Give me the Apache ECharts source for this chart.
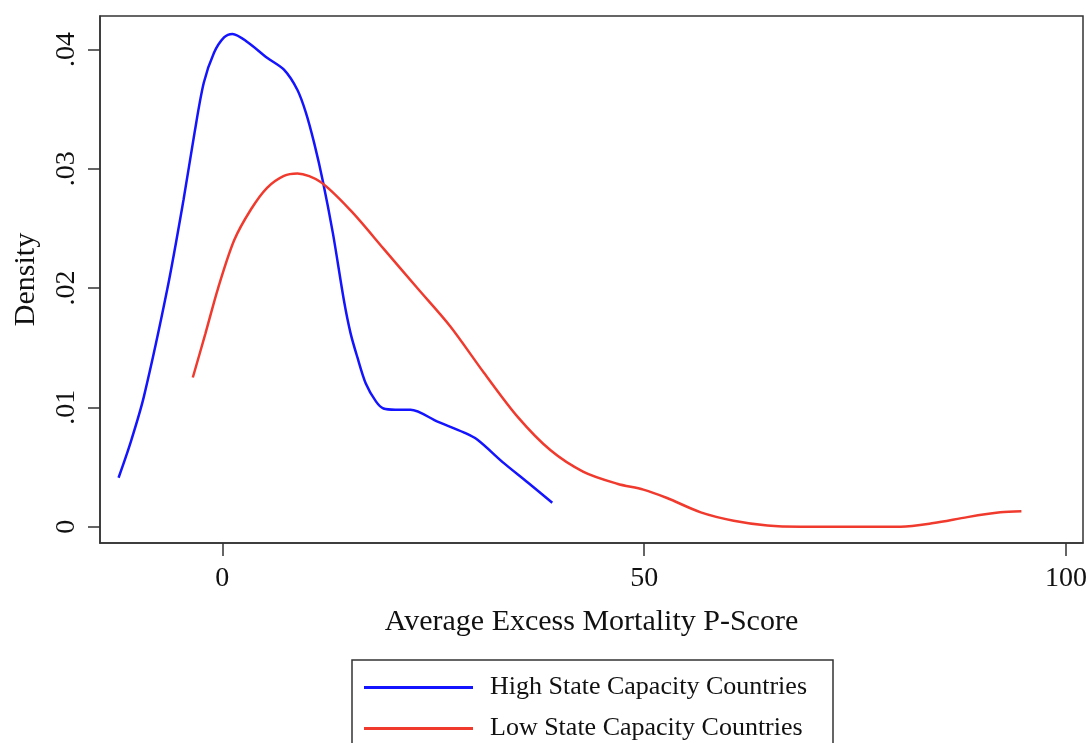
<!DOCTYPE html>
<html lang="en">
<head>
    <meta charset="UTF-8"/>
    <title>density</title>
    <script src="https://cdn.jsdelivr.net/npm/echarts@6/dist/echarts.min.js"></script>
</head>
<body style="margin:0">
<div id="main" style="width: 1091px;height:743px;"></div>
<script type="text/javascript">
    // kernel density
    var highX = [-12.3, -10.9, -9.3, -6.5, -4.6, -3.3, -2.2, -1.0, 0.2, 1.2, 3.0, 5.3, 7.3, 8.9, 9.9, 10.9, 11.9, 13.1, 14.4, 15.2, 16.0, 17.0, 18.2, 19.1, 20.5, 22.3, 25.5, 28.6, 30.2, 33.4, 36.2, 39.1];
    var highY = [0.0041, 0.0070, 0.0109, 0.0200, 0.0274, 0.0330, 0.0372, 0.0397, 0.0410, 0.0413, 0.0406, 0.0393, 0.0383, 0.0366, 0.0347, 0.0321, 0.0290, 0.0246, 0.0190, 0.0162, 0.0142, 0.0120, 0.0105, 0.0099, 0.0098, 0.0098, 0.0088, 0.0079, 0.0073, 0.0053, 0.0037, 0.0020];
    var lowX = [-3.5, -2.0, -0.5, 1.4, 3.4, 5.3, 7.3, 8.9, 11.6, 15.2, 19.1, 23.1, 27.0, 31.0, 35.0, 38.9, 42.8, 46.8, 49.9, 52.7, 56.7, 60.6, 64.6, 68.5, 74.5, 80.4, 84.3, 88.3, 92.2, 94.7];
    var lowY = [0.0125, 0.0162, 0.0200, 0.0240, 0.0266, 0.0284, 0.0294, 0.0296, 0.0289, 0.0265, 0.0233, 0.0200, 0.0168, 0.0129, 0.0092, 0.0064, 0.0046, 0.0036, 0.0031, 0.0024, 0.0012, 0.0005, 0.0001, 0.0, 0.0, 0.0, 0.0003, 0.0008, 0.0012, 0.0013];
    var xTicks = [0, 50, 100];
    var yTicks = [0, 0.01, 0.02, 0.03, 0.04];
    var names = ['High State Capacity Countries', 'Low State Capacity Countries'];

    function pairs(xs, ys) {
        var out = [];
        for (var i = 0; i < xs.length; i++) out.push([xs[i], ys[i]]);
        return out;
    }

    var font = 'Liberation Serif';
    var myChart = echarts.init(document.getElementById('main'));
    var option = {
        animation: false,
        grid: {
            left: 100, right: 8, top: 16, bottom: 200,
            outerBoundsMode: 'none', containLabel: false,
            show: true, borderColor: '#333', borderWidth: 1.5
        },
        xAxis: {
            type: 'value', min: -14.5, max: 102,
            name: 'Average Excess Mortality P-Score',
            nameLocation: 'middle', nameGap: 64,
            nameTextStyle: {fontFamily: font, fontSize: 30, color: '#111'},
            splitLine: {show: false},
            axisLine: {show: true, onZero: false, lineStyle: {color: '#333', width: 1.5}},
            axisTick: {show: true, length: 13, customValues: xTicks, lineStyle: {color: '#333', width: 1.5}},
            axisLabel: {customValues: xTicks, margin: 22, fontFamily: font, fontSize: 28, color: '#111'}
        },
        yAxis: {
            type: 'value', min: -0.00137, max: 0.0428,
            name: 'Density',
            nameLocation: 'middle', nameGap: 59, nameRotate: 90,
            nameTextStyle: {fontFamily: font, fontSize: 30, color: '#111'},
            splitLine: {show: false},
            axisLine: {show: true, onZero: false, lineStyle: {color: '#333', width: 1.5}},
            axisTick: {show: true, length: 12, customValues: yTicks, lineStyle: {color: '#333', width: 1.5}},
            axisLabel: {
                customValues: yTicks, rotate: 90, margin: 19,
                fontFamily: font, fontSize: 28, color: '#111',
                formatter: function (v) {
                    return v === 0 ? '0' : String(v).replace(/^0/, '');
                }
            }
        },
        legend: {
            orient: 'vertical', left: 352, top: 660, height: 200,
            data: names,
            icon: 'rect',
            itemWidth: 109, itemHeight: 3, itemGap: 14,
            padding: [14, 26, 40, 12],
            borderColor: '#333', borderWidth: 1.5,
            textStyle: {fontFamily: font, fontSize: 26, color: '#111', padding: [0, 0, 0, 12], lineHeight: 27}
        },
        series: [
            {
                name: names[0], type: 'line', symbol: 'none', smooth: 0.3,
                data: pairs(highX, highY),
                lineStyle: {color: '#1414ff', width: 2.5},
                itemStyle: {color: '#1414ff'}
            },
            {
                name: names[1], type: 'line', symbol: 'none', smooth: 0.3,
                data: pairs(lowX, lowY),
                lineStyle: {color: '#f03a2e', width: 2.5},
                itemStyle: {color: '#f03a2e'}
            }
        ]
    };
    myChart.setOption(option);
</script>
</body>
</html>
